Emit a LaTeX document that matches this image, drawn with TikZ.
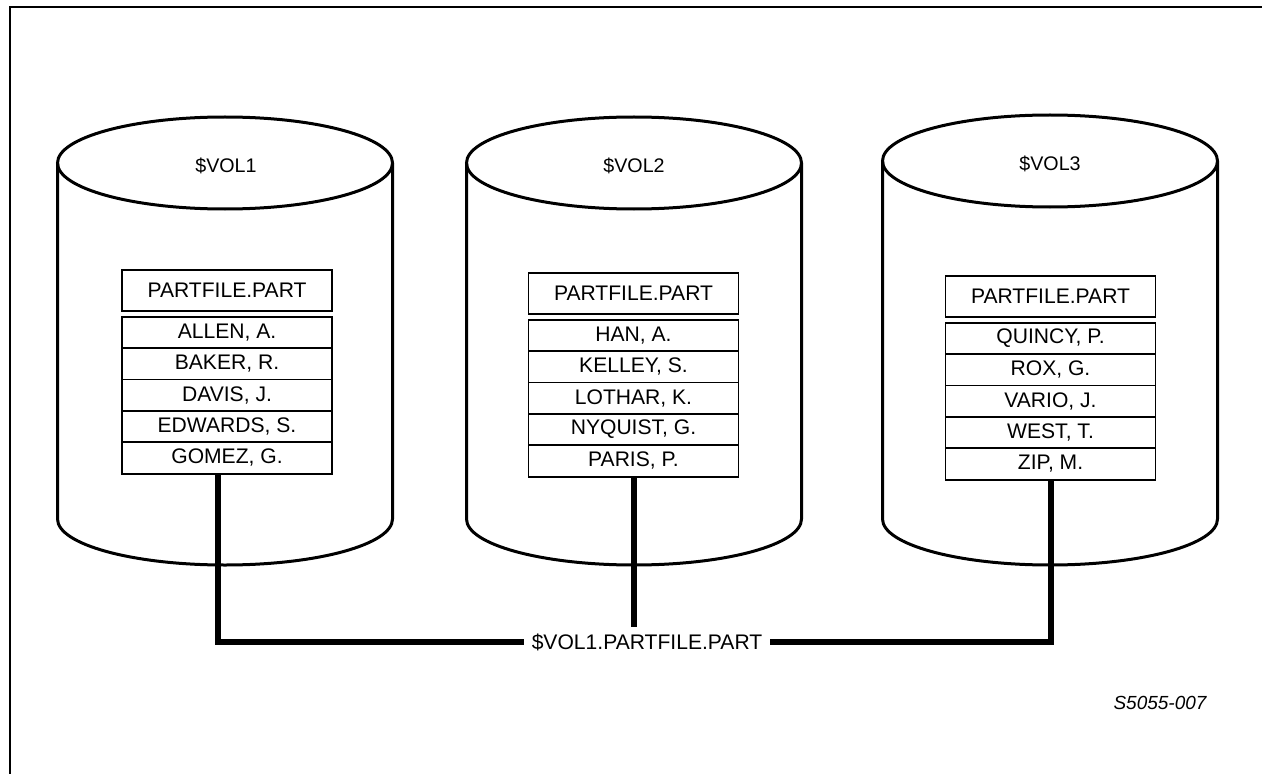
\documentclass[tikz,border=0pt]{standalone}
\usepackage{fontspec}
\setmainfont{Liberation Sans}
\usetikzlibrary{positioning}
\tikzset{
  disk/.style     = {line width=0.75mm},
  frame/.style    = {line width=0.5mm},
  head/.style     = {draw, line width=0.45mm, minimum width=52.5mm, minimum height=10.25mm,
                     inner sep=0pt, outer sep=0pt, anchor=north, font=\fontsize{15}{18}\selectfont},
  entry/.style    = {draw, line width=0.45mm, minimum width=52.5mm, minimum height=7.85mm,
                     inner sep=0pt, outer sep=0pt, font=\fontsize{15}{18}\selectfont},
  bus/.style      = {line width=1.5mm},
  voltitle/.style = {inner sep=0pt},
  fullname/.style = {inner xsep=1.8mm, inner ysep=1.5mm, font=\fontsize{15}{18}\selectfont},
  tag/.style      = {font=\fontsize{13.5}{16}\selectfont\itshape},
}

\begin{document}
\begin{tikzpicture}[x=0.25mm, y=0.25mm, every node/.style={font=\fontsize{14}{17}\selectfont}]
\useasboundingbox (0,0) rectangle (1262,-774);

% ---- frame (open on right and bottom) ----
\draw[frame] (10,-774) -- (10,-7) -- (1262,-7);

% ---- the three volumes ----
\draw[disk] (225,-163) ellipse [x radius=167.5, y radius=46];
\draw[disk] (57.5,-163) -- (57.5,-519) arc[start angle=180, end angle=360, x radius=167.5, y radius=46] -- (392.5,-163);
\node[voltitle] (vol1) at (226,-166) {\$VOL1};

\draw[disk] (634,-163) ellipse [x radius=167.5, y radius=46];
\draw[disk] (466.5,-163) -- (466.5,-519) arc[start angle=180, end angle=360, x radius=167.5, y radius=46] -- (801.5,-163);
\node[voltitle] (vol2) at (634,-166) {\$VOL2};

\draw[disk] (1050,-161) ellipse [x radius=167.5, y radius=46];
\draw[disk] (882.5,-161) -- (882.5,-519) arc[start angle=180, end angle=360, x radius=167.5, y radius=46] -- (1217.5,-161);
\node[voltitle] (vol3) at (1050,-164) {\$VOL3};

% ---- partition on $VOL1 ----
\node[head] (hd1) at (227,-270) {PARTFILE.PART};
\node[entry, below=1.4mm of hd1] (a1) {ALLEN, A.};
\node[entry, below=0pt of a1] (a2) {BAKER, R.};
\node[entry, below=0pt of a2] (a3) {DAVIS, J.};
\node[entry, below=0pt of a3] (a4) {EDWARDS, S.};
\node[entry, below=0pt of a4] (a5) {GOMEZ, G.};

% ---- partition on $VOL2 ----
\node[head] (hd2) at (633.5,-273) {PARTFILE.PART};
\node[entry, below=1.4mm of hd2] (b1) {HAN, A.};
\node[entry, below=0pt of b1] (b2) {KELLEY, S.};
\node[entry, below=0pt of b2] (b3) {LOTHAR, K.};
\node[entry, below=0pt of b3] (b4) {NYQUIST, G.};
\node[entry, below=0pt of b4] (b5) {PARIS, P.};

% ---- partition on $VOL3 ----
\node[head] (hd3) at (1050.5,-276) {PARTFILE.PART};
\node[entry, below=1.4mm of hd3] (c1) {QUINCY, P.};
\node[entry, below=0pt of c1] (c2) {ROX, G.};
\node[entry, below=0pt of c2] (c3) {VARIO, J.};
\node[entry, below=0pt of c3] (c4) {WEST, T.};
\node[entry, below=0pt of c4] (c5) {ZIP, M.};

% ---- one file name for all partitions ----
\node[fullname] (fname) at (647,-642) {\$VOL1.PARTFILE.PART};
\draw[bus] ([xshift=-2.25mm]a5.south) |- (fname.west);
\draw[bus] (b5.south) -- (b5.south |- fname.north);
\draw[bus] (c5.south) |- (fname.east);

\node[tag] (fig) at (1160,-703) {S5055-007};

\end{tikzpicture}
\end{document}
